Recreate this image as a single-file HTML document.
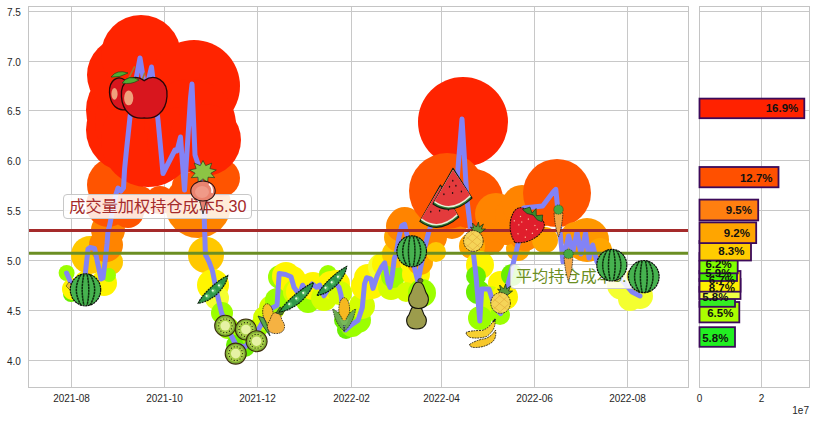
<!DOCTYPE html>
<html><head><meta charset="utf-8"><style>
html,body{margin:0;padding:0;background:#fff;}
body{width:816px;height:422px;overflow:hidden;position:relative;font-family:"Liberation Sans",sans-serif;}
svg{position:absolute;left:0;top:0;}
.g{stroke:#c8c8c8;stroke-width:1;}
.sp{fill:none;stroke:#c4c4c4;stroke-width:1;}
.t{font-size:10px;fill:#262626;}
.bl{font-size:11.5px;font-weight:bold;fill:#111;text-anchor:end;}
.ann{position:absolute;font-family:"Liberation Sans","Noto Sans CJK SC",sans-serif;font-size:16.2px;line-height:20px;
 background:rgba(255,255,255,0.85);border:1px solid #c8c8c8;border-radius:4px;padding:1.5px 4.2px 1.5px 5px;white-space:nowrap;}
</style></head><body>
<svg width="816" height="422" viewBox="0 0 816 422">
<line x1="28.5" y1="11.5" x2="688.5" y2="11.5" class="g"/>
<line x1="699.5" y1="11.5" x2="809.5" y2="11.5" class="g"/>
<line x1="28.5" y1="61.5" x2="688.5" y2="61.5" class="g"/>
<line x1="699.5" y1="61.5" x2="809.5" y2="61.5" class="g"/>
<line x1="28.5" y1="110.5" x2="688.5" y2="110.5" class="g"/>
<line x1="699.5" y1="110.5" x2="809.5" y2="110.5" class="g"/>
<line x1="28.5" y1="160.5" x2="688.5" y2="160.5" class="g"/>
<line x1="699.5" y1="160.5" x2="809.5" y2="160.5" class="g"/>
<line x1="28.5" y1="210.5" x2="688.5" y2="210.5" class="g"/>
<line x1="699.5" y1="210.5" x2="809.5" y2="210.5" class="g"/>
<line x1="28.5" y1="260.5" x2="688.5" y2="260.5" class="g"/>
<line x1="699.5" y1="260.5" x2="809.5" y2="260.5" class="g"/>
<line x1="28.5" y1="310.5" x2="688.5" y2="310.5" class="g"/>
<line x1="699.5" y1="310.5" x2="809.5" y2="310.5" class="g"/>
<line x1="28.5" y1="360.5" x2="688.5" y2="360.5" class="g"/>
<line x1="699.5" y1="360.5" x2="809.5" y2="360.5" class="g"/>
<line x1="71.5" y1="6.5" x2="71.5" y2="387.5" class="g"/>
<line x1="164.5" y1="6.5" x2="164.5" y2="387.5" class="g"/>
<line x1="257.5" y1="6.5" x2="257.5" y2="387.5" class="g"/>
<line x1="351.5" y1="6.5" x2="351.5" y2="387.5" class="g"/>
<line x1="441.5" y1="6.5" x2="441.5" y2="387.5" class="g"/>
<line x1="534.5" y1="6.5" x2="534.5" y2="387.5" class="g"/>
<line x1="627.5" y1="6.5" x2="627.5" y2="387.5" class="g"/>
<line x1="761.5" y1="6.5" x2="761.5" y2="387.5" class="g"/>
<circle cx="66.6" cy="273" r="8" fill="#9cff00"/>
<circle cx="71" cy="294" r="8" fill="#6aee00"/>
<circle cx="73" cy="289" r="11" fill="#fff500"/>
<circle cx="80" cy="292" r="10" fill="#fff500"/>
<circle cx="84.6" cy="281" r="10" fill="#fff500"/>
<circle cx="90" cy="255" r="19" fill="#ffc800"/>
<circle cx="95" cy="250" r="14" fill="#ffc800"/>
<circle cx="104" cy="283" r="13" fill="#fff500"/>
<circle cx="110" cy="262" r="13" fill="#ffc800"/>
<circle cx="109" cy="275" r="7" fill="#9cff00"/>
<circle cx="106" cy="245" r="17" fill="#ff8400"/>
<circle cx="108" cy="230" r="17" fill="#ff8400"/>
<circle cx="198" cy="205" r="33" fill="#ff8400"/>
<circle cx="108" cy="205" r="22" fill="#ff5400"/>
<circle cx="115" cy="185" r="28" fill="#ff5400"/>
<circle cx="128" cy="212" r="16" fill="#ff5400"/>
<circle cx="140" cy="200" r="14" fill="#ff5400"/>
<circle cx="160" cy="200" r="14" fill="#ff5400"/>
<circle cx="180" cy="198" r="14" fill="#ff5400"/>
<circle cx="186" cy="186" r="14" fill="#ff5400"/>
<circle cx="221" cy="178" r="19" fill="#ff5400"/>
<circle cx="130" cy="110" r="44" fill="#ff2400"/>
<circle cx="128" cy="130" r="42" fill="#ff2400"/>
<circle cx="125" cy="75" r="38" fill="#ff2400"/>
<circle cx="141" cy="55" r="40" fill="#ff2400"/>
<circle cx="140" cy="122" r="45" fill="#ff2400"/>
<circle cx="148" cy="140" r="47" fill="#ff2400"/>
<circle cx="194" cy="86" r="46" fill="#ff2400"/>
<circle cx="190" cy="125" r="46" fill="#ff2400"/>
<circle cx="180" cy="140" r="33" fill="#ff2400"/>
<circle cx="205" cy="140" r="36" fill="#ff2400"/>
<circle cx="206" cy="255" r="18" fill="#ffc800"/>
<circle cx="213" cy="285" r="16" fill="#fff500"/>
<circle cx="217" cy="298" r="12" fill="#f4ff30"/>
<circle cx="222" cy="313" r="11" fill="#9cff00"/>
<circle cx="228" cy="328" r="11" fill="#9cff00"/>
<circle cx="236" cy="345" r="10" fill="#6aee00"/>
<circle cx="245" cy="347" r="10" fill="#6aee00"/>
<circle cx="252" cy="338" r="10" fill="#9cff00"/>
<circle cx="258" cy="328" r="10" fill="#9cff00"/>
<circle cx="265" cy="318" r="12" fill="#d4ff00"/>
<circle cx="272" cy="308" r="13" fill="#d4ff00"/>
<circle cx="277" cy="300" r="12" fill="#9cff00"/>
<circle cx="280" cy="277" r="12" fill="#9cff00"/>
<circle cx="286" cy="276" r="14" fill="#fff500"/>
<circle cx="292" cy="280" r="14" fill="#fff500"/>
<circle cx="296" cy="292" r="13" fill="#d4ff00"/>
<circle cx="300" cy="292" r="14" fill="#fff500"/>
<circle cx="305" cy="290" r="14" fill="#fff500"/>
<circle cx="308" cy="301" r="12" fill="#9cff00"/>
<circle cx="313" cy="286" r="14" fill="#fff500"/>
<circle cx="318" cy="288" r="13" fill="#fff500"/>
<circle cx="324" cy="298" r="13" fill="#d4ff00"/>
<circle cx="328" cy="274" r="9" fill="#9cff00"/>
<circle cx="331" cy="285" r="14" fill="#fff500"/>
<circle cx="336" cy="284" r="14" fill="#fff500"/>
<circle cx="340" cy="293" r="12" fill="#d4ff00"/>
<circle cx="344" cy="320" r="10" fill="#6aee00"/>
<circle cx="346" cy="330" r="9" fill="#6aee00"/>
<circle cx="352" cy="325" r="12" fill="#9cff00"/>
<circle cx="358" cy="320" r="13" fill="#9cff00"/>
<circle cx="362" cy="306" r="13" fill="#d4ff00"/>
<circle cx="365" cy="286" r="14" fill="#fff500"/>
<circle cx="368" cy="278" r="14" fill="#fff500"/>
<circle cx="372" cy="286" r="13" fill="#fff500"/>
<circle cx="377" cy="276" r="14" fill="#fff500"/>
<circle cx="382" cy="267" r="14" fill="#f4ff30"/>
<circle cx="385" cy="264" r="13" fill="#fff500"/>
<circle cx="388" cy="282" r="14" fill="#fff500"/>
<circle cx="391" cy="287" r="13" fill="#d4ff00"/>
<circle cx="393" cy="276" r="12" fill="#9cff00"/>
<circle cx="396" cy="254" r="14" fill="#ffc800"/>
<circle cx="399" cy="237" r="15" fill="#ffa600"/>
<circle cx="402" cy="226" r="16" fill="#ff8400"/>
<circle cx="404.6" cy="224" r="17" fill="#ff8400"/>
<circle cx="413" cy="262" r="13" fill="#fff500"/>
<circle cx="416" cy="274" r="14" fill="#fff500"/>
<circle cx="406" cy="292" r="10" fill="#d4ff00"/>
<circle cx="422" cy="293" r="14" fill="#9cff00"/>
<circle cx="420" cy="262" r="13" fill="#ffa600"/>
<circle cx="424.5" cy="243" r="15" fill="#ff8400"/>
<circle cx="429" cy="229" r="16" fill="#ff8400"/>
<circle cx="431" cy="237" r="16" fill="#ff8400"/>
<circle cx="463" cy="122" r="45" fill="#ff2400"/>
<circle cx="452" cy="224" r="15" fill="#ff8400"/>
<circle cx="447" cy="191" r="38" fill="#ff5400"/>
<circle cx="473" cy="199" r="30" fill="#ff5400"/>
<circle cx="496" cy="214" r="21" fill="#ff8400"/>
<circle cx="490" cy="240" r="15" fill="#ff8400"/>
<circle cx="472" cy="246" r="13" fill="#ffa600"/>
<circle cx="436" cy="252" r="10" fill="#ffc800"/>
<circle cx="480" cy="265" r="14" fill="#fff500"/>
<circle cx="500" cy="283" r="12" fill="#fff500"/>
<circle cx="476" cy="276" r="10" fill="#6aee00"/>
<circle cx="478" cy="292" r="12" fill="#6aee00"/>
<circle cx="490" cy="300" r="14" fill="#d4ff00"/>
<circle cx="480" cy="318" r="12" fill="#9cff00"/>
<circle cx="505" cy="297" r="13" fill="#fff500"/>
<circle cx="500" cy="315" r="10" fill="#9cff00"/>
<circle cx="512" cy="275" r="11" fill="#6aee00"/>
<circle cx="518" cy="249" r="12" fill="#ffa600"/>
<circle cx="512" cy="215" r="17" fill="#ff8400"/>
<circle cx="506" cy="232" r="13" fill="#ff8400"/>
<circle cx="522" cy="205" r="20" fill="#ff8400"/>
<circle cx="525" cy="235" r="16" fill="#ff8400"/>
<circle cx="540" cy="205" r="22" fill="#ff8400"/>
<circle cx="557" cy="193" r="34" fill="#ff5400"/>
<circle cx="545" cy="240" r="13" fill="#ffa600"/>
<circle cx="575" cy="236" r="14" fill="#ff9800"/>
<circle cx="587" cy="240" r="22" fill="#ff9800"/>
<circle cx="600" cy="250" r="12" fill="#ffa600"/>
<circle cx="622" cy="285" r="15" fill="#f4ff30"/>
<circle cx="640" cy="296" r="13" fill="#f4ff30"/>
<circle cx="630" cy="299" r="12" fill="#f4ff30"/>
<polyline points="66.6,273 71,283 78,294 84.6,280 88,249 90,247.5 94.6,248.5 101,279 103,278 105.4,259 107,244 108,231 109.5,226 116,194 118,188 121,191 123.5,188 124.6,169 126.5,150 130,117 134,90 140,58 145.5,92 151.5,67 158,120 163,173.5 175,150 177,151 180.5,137 184.5,190 186.2,164 190.5,98 192,84 195,155 199,167 204.2,216.6 205.4,254.5 209,261.6 212.5,271 214.9,283 217.3,294.8 221.6,313 228.2,329.7 236,345 245,347 252,338 258,330 265,318 272,308 277,305.4 279.2,273.5 285.6,274.5 291,276.7 294,287.3 299.4,294.8 302.6,285.2 307,291.6 312.2,284 316.5,287.3 319.7,285.2 324,295.8 330.4,285.2 334.6,282 339,287.3 341,294.8 345.3,330 351.7,324.6 358,320.4 362.3,307.6 364.5,284 366.6,277.7 370.9,278.8 373,288.4 377.3,275.6 381.5,267 384.7,262.8 388,282 390,287.3 392.2,275.6 394.3,258.5 396.1,254.1 399,237 401.8,225.7 404.6,224.3 413.2,262.6 418,282 424,250 429,231 436,212 445,205 455,205 462,119 467,200 471,233 476,275.8 479.8,321 481.7,289 489,289 495,308 500.6,313.6 515.8,253 521.4,230 523.6,208 542.6,206 554,191 555.8,189.3 563,262 568.5,236 572.8,252 577,232 581,254 585.6,233 589,258 592.7,245 597,262 602,258 610,265 620,278 631.7,291.7 640,296" fill="none" stroke="#8383f5" stroke-width="5" stroke-linejoin="round" stroke-linecap="round"/>
<line x1="28.5" y1="230.4" x2="688.5" y2="230.4" stroke="#a52a2a" stroke-width="3"/>
<line x1="28.5" y1="253.3" x2="688.5" y2="253.3" stroke="#6b8e23" stroke-width="3"/>
<rect x="28.5" y="6.5" width="660.0" height="381.0" class="sp"/>
<rect x="699.5" y="6.5" width="110.0" height="381.0" class="sp"/>
<g><rect x="699.5" y="98.6" width="104.8" height="19.6" fill="#ff2200" stroke="#3c0a5a" stroke-width="1.8"/>
<rect x="699.5" y="167" width="79.0" height="20.3" fill="#ff5000" stroke="#3c0a5a" stroke-width="1.8"/>
<rect x="699.5" y="199.6" width="58.7" height="20.8" fill="#ff7f10" stroke="#3c0a5a" stroke-width="1.8"/>
<rect x="699.5" y="302" width="39.8" height="20.4" fill="#aaff00" stroke="#3c0a5a" stroke-width="1.8"/>
<rect x="699.5" y="287" width="35.5" height="19.8" fill="#33ee22" stroke="#3c0a5a" stroke-width="1.8"/>
<rect x="699.5" y="279" width="41.0" height="20.0" fill="#f0ff44" stroke="#3c0a5a" stroke-width="1.8"/>
<rect x="699.5" y="271" width="41.0" height="20.7" fill="#ffee00" stroke="#3c0a5a" stroke-width="1.8"/>
<rect x="699.5" y="261" width="37.5" height="20.0" fill="#44ee00" stroke="#3c0a5a" stroke-width="1.8"/>
<rect x="699.5" y="253" width="38.2" height="20.3" fill="#80ff00" stroke="#3c0a5a" stroke-width="1.8"/>
<rect x="699.5" y="241" width="51.5" height="19.5" fill="#ffcc00" stroke="#3c0a5a" stroke-width="1.8"/>
<rect x="699.5" y="222.4" width="56.7" height="20.7" fill="#ffa500" stroke="#3c0a5a" stroke-width="1.8"/>
<rect x="699.5" y="327.2" width="35.5" height="19.6" fill="#22ee22" stroke="#3c0a5a" stroke-width="1.8"/>
<text x="798.3" y="112.3" class="bl">16.9%</text>
<text x="772.5" y="181.5" class="bl">12.7%</text>
<text x="752" y="214.3" class="bl">9.5%</text>
<text x="750" y="237.0" class="bl">9.2%</text>
<text x="744.5" y="255.0" class="bl">8.3%</text>
<text x="731.7" y="267.7" class="bl">6.2%</text>
<text x="731.5" y="276.9" class="bl">5.9%</text>
<text x="735" y="284.3" class="bl">6.7%</text>
<text x="735" y="291.5" class="bl">8.7%</text>
<text x="728.5" y="300.9" class="bl">5.8%</text>
<text x="733.4" y="316.7" class="bl">6.5%</text>
<text x="728.4" y="341.7" class="bl">5.8%</text></g>
<text x="20.8" y="16.3" class="t" text-anchor="end">7.5</text>
<text x="20.8" y="66.3" class="t" text-anchor="end">7.0</text>
<text x="20.8" y="115.3" class="t" text-anchor="end">6.5</text>
<text x="20.8" y="165.3" class="t" text-anchor="end">6.0</text>
<text x="20.8" y="215.3" class="t" text-anchor="end">5.5</text>
<text x="20.8" y="265.3" class="t" text-anchor="end">5.0</text>
<text x="20.8" y="315.3" class="t" text-anchor="end">4.5</text>
<text x="20.8" y="365.3" class="t" text-anchor="end">4.0</text>
<text x="71.5" y="402.4" class="t" text-anchor="middle">2021-08</text>
<text x="164.5" y="402.4" class="t" text-anchor="middle">2021-10</text>
<text x="257.5" y="402.4" class="t" text-anchor="middle">2021-12</text>
<text x="351.5" y="402.4" class="t" text-anchor="middle">2022-02</text>
<text x="441.5" y="402.4" class="t" text-anchor="middle">2022-04</text>
<text x="534.5" y="402.4" class="t" text-anchor="middle">2022-06</text>
<text x="627.5" y="402.4" class="t" text-anchor="middle">2022-08</text>
<text x="699.5" y="402" class="t" text-anchor="middle">0</text>
<text x="761.6" y="402" class="t" text-anchor="middle">2</text>
<text x="809" y="414" class="t" text-anchor="end">1e7</text>
</svg>
<div class="ann" style="left:63.3px;top:193.8px;color:#a52a2a;">成交量加权持仓成本5.30</div>
<div class="ann" style="left:509.8px;top:263.6px;color:#6b8e23;">平均持仓成本5.07</div>
<svg width="816" height="422" viewBox="0 0 816 422">
<path d="M66,286 l3,-4 l3,3 l3,-3 l-1,5 l-4,3Z" fill="#f0c030" stroke="#222" stroke-width="0.5"/>
<g><ellipse cx="85.5" cy="289.8" rx="15.2" ry="16.0" fill="#46b24f" stroke="#0c0c0c" stroke-width="1.2" stroke-dasharray="2.2 0.6"/><path d="M81.0,274.5 Q71.7,289.8 81.0,305.1" fill="none" stroke="#0c2a0c" stroke-width="1.5" stroke-dasharray="2.5 0.5"/><path d="M83.9,274.5 Q80.5,289.8 83.9,305.1" fill="none" stroke="#0c2a0c" stroke-width="1.5" stroke-dasharray="2.5 0.5"/><path d="M87.1,274.5 Q90.5,289.8 87.1,305.1" fill="none" stroke="#0c2a0c" stroke-width="1.5" stroke-dasharray="2.5 0.5"/><path d="M90.0,274.5 Q99.3,289.8 90.0,305.1" fill="none" stroke="#0c2a0c" stroke-width="1.5" stroke-dasharray="2.5 0.5"/></g>
<path d="M128.8,78.2 L134.7,66.4" stroke="#a07830" stroke-width="1.6"/>
<g><path d="M125,80.3 C118.0,74.6 108.7,80.0 109.5,92.8 C110.3,105.8 118.0,110.9 125,109.6 C132.0,110.9 139.7,105.8 140.5,92.8 C141.3,80.0 132.0,74.6 125,80.3Z" fill="#d8161e" stroke="#2a0606" stroke-width="1.3"/><ellipse cx="114.5" cy="93.9" rx="3.1" ry="5.8" fill="#f0a07c"/></g>
<path d="M111,77 q6,-8 17,-4 q-8,5 -17,4Z" fill="#52ac34" stroke="#1a3a10" stroke-width="0.6"/>
<path d="M140.6,84 L145,72.5" stroke="#a07830" stroke-width="1.6"/>
<g><path d="M144.2,80.6 C133.9,73.2 120.3,80.1 121.4,96.4 C122.5,113.1 133.9,119.6 144.2,117.9 C154.5,119.6 165.9,113.1 167.0,96.4 C168.1,80.1 154.5,73.2 144.2,80.6Z" fill="#d8161e" stroke="#2a0606" stroke-width="1.3"/><ellipse cx="128.7" cy="97.9" rx="4.6" ry="7.4" fill="#f0a07c"/></g>
<path d="M122,83 q7,-9 17,-3 q-8,5 -17,3Z" fill="#52ac34" stroke="#1a3a10" stroke-width="0.6"/>
<g><path d="M203.0,160.5 L205.7,165.6 L211.7,163.2 L209.9,168.6 L216.3,170.0 L210.9,173.2 L214.7,177.7 L208.1,177.2 L207.6,182.8 L203.0,178.8 L198.4,182.8 L197.9,177.2 L191.3,177.7 L195.1,173.2 L189.7,170.0 L196.1,168.6 L194.3,163.2 L200.3,165.6Z" fill="#8cc444" stroke="#2a3a1a" stroke-width="0.7"/><path d="M199,198 L203,214 L207,198Z" fill="#e88070" stroke="#222" stroke-width="0.8"/><ellipse cx="203" cy="191" rx="12.2" ry="10" fill="#ea8470" stroke="#2a1010" stroke-width="1.1"/><ellipse cx="202" cy="192" rx="7" ry="6" fill="#f09a88"/><path d="M209,184 q4,3 3,9" stroke="#fff" stroke-width="1.6" fill="none"/></g>
<g transform="translate(213.6,290.2) rotate(-40.3)"><path d="M-20.2,0 C-11.1,-4.5 9.1,-5.0 20.2,-2.0 C12.1,5.5 -7.1,8.5 -20.2,0Z" fill="#30984a" stroke="#0a200c" stroke-width="1.2" stroke-dasharray="2 0.7"/><circle cx="-8.5" cy="0.5" r="2.3" fill="#52b862"/><circle cx="-9.0" cy="-0.2" r="1.1" fill="#e8f8e0"/><circle cx="-0.4" cy="0.5" r="2.3" fill="#52b862"/><circle cx="-0.9" cy="-0.2" r="1.1" fill="#e8f8e0"/><circle cx="7.7" cy="0.5" r="2.3" fill="#52b862"/><circle cx="7.2" cy="-0.2" r="1.1" fill="#e8f8e0"/></g>
<g><circle cx="225.2" cy="325.8" r="10.5" fill="#7fae34" stroke="#3c2e0c" stroke-width="1.1"/><circle cx="225.2" cy="325.8" r="8.4" fill="#a9cf48"/><circle cx="225.2" cy="325.8" r="4.8" fill="#e6f2a4"/><circle cx="232.1" cy="325.8" r="0.6" fill="#1a1a0a"/><circle cx="231.4" cy="328.8" r="0.6" fill="#1a1a0a"/><circle cx="229.5" cy="331.2" r="0.6" fill="#1a1a0a"/><circle cx="226.7" cy="332.6" r="0.6" fill="#1a1a0a"/><circle cx="223.7" cy="332.6" r="0.6" fill="#1a1a0a"/><circle cx="220.9" cy="331.2" r="0.6" fill="#1a1a0a"/><circle cx="219.0" cy="328.8" r="0.6" fill="#1a1a0a"/><circle cx="218.3" cy="325.8" r="0.6" fill="#1a1a0a"/><circle cx="219.0" cy="322.8" r="0.6" fill="#1a1a0a"/><circle cx="220.9" cy="320.4" r="0.6" fill="#1a1a0a"/><circle cx="223.7" cy="319.0" r="0.6" fill="#1a1a0a"/><circle cx="226.7" cy="319.0" r="0.6" fill="#1a1a0a"/><circle cx="229.5" cy="320.4" r="0.6" fill="#1a1a0a"/><circle cx="231.4" cy="322.8" r="0.6" fill="#1a1a0a"/></g>
<g><circle cx="245.9" cy="329.5" r="10.5" fill="#7fae34" stroke="#3c2e0c" stroke-width="1.1"/><circle cx="245.9" cy="329.5" r="8.4" fill="#a9cf48"/><circle cx="245.9" cy="329.5" r="4.8" fill="#e6f2a4"/><circle cx="252.8" cy="329.5" r="0.6" fill="#1a1a0a"/><circle cx="252.1" cy="332.5" r="0.6" fill="#1a1a0a"/><circle cx="250.2" cy="334.9" r="0.6" fill="#1a1a0a"/><circle cx="247.4" cy="336.3" r="0.6" fill="#1a1a0a"/><circle cx="244.4" cy="336.3" r="0.6" fill="#1a1a0a"/><circle cx="241.6" cy="334.9" r="0.6" fill="#1a1a0a"/><circle cx="239.7" cy="332.5" r="0.6" fill="#1a1a0a"/><circle cx="239.0" cy="329.5" r="0.6" fill="#1a1a0a"/><circle cx="239.7" cy="326.5" r="0.6" fill="#1a1a0a"/><circle cx="241.6" cy="324.1" r="0.6" fill="#1a1a0a"/><circle cx="244.4" cy="322.7" r="0.6" fill="#1a1a0a"/><circle cx="247.4" cy="322.7" r="0.6" fill="#1a1a0a"/><circle cx="250.2" cy="324.1" r="0.6" fill="#1a1a0a"/><circle cx="252.1" cy="326.5" r="0.6" fill="#1a1a0a"/></g>
<g><circle cx="256.6" cy="341.2" r="10.5" fill="#7fae34" stroke="#3c2e0c" stroke-width="1.1"/><circle cx="256.6" cy="341.2" r="8.4" fill="#a9cf48"/><circle cx="256.6" cy="341.2" r="4.8" fill="#e6f2a4"/><circle cx="263.5" cy="341.2" r="0.6" fill="#1a1a0a"/><circle cx="262.8" cy="344.2" r="0.6" fill="#1a1a0a"/><circle cx="260.9" cy="346.6" r="0.6" fill="#1a1a0a"/><circle cx="258.1" cy="348.0" r="0.6" fill="#1a1a0a"/><circle cx="255.1" cy="348.0" r="0.6" fill="#1a1a0a"/><circle cx="252.3" cy="346.6" r="0.6" fill="#1a1a0a"/><circle cx="250.4" cy="344.2" r="0.6" fill="#1a1a0a"/><circle cx="249.7" cy="341.2" r="0.6" fill="#1a1a0a"/><circle cx="250.4" cy="338.2" r="0.6" fill="#1a1a0a"/><circle cx="252.3" cy="335.8" r="0.6" fill="#1a1a0a"/><circle cx="255.1" cy="334.4" r="0.6" fill="#1a1a0a"/><circle cx="258.1" cy="334.4" r="0.6" fill="#1a1a0a"/><circle cx="260.9" cy="335.8" r="0.6" fill="#1a1a0a"/><circle cx="262.8" cy="338.2" r="0.6" fill="#1a1a0a"/></g>
<g><circle cx="235.7" cy="353.6" r="10.5" fill="#7fae34" stroke="#3c2e0c" stroke-width="1.1"/><circle cx="235.7" cy="353.6" r="8.4" fill="#a9cf48"/><circle cx="235.7" cy="353.6" r="4.8" fill="#e6f2a4"/><circle cx="242.6" cy="353.6" r="0.6" fill="#1a1a0a"/><circle cx="241.9" cy="356.6" r="0.6" fill="#1a1a0a"/><circle cx="240.0" cy="359.0" r="0.6" fill="#1a1a0a"/><circle cx="237.2" cy="360.4" r="0.6" fill="#1a1a0a"/><circle cx="234.2" cy="360.4" r="0.6" fill="#1a1a0a"/><circle cx="231.4" cy="359.0" r="0.6" fill="#1a1a0a"/><circle cx="229.5" cy="356.6" r="0.6" fill="#1a1a0a"/><circle cx="228.8" cy="353.6" r="0.6" fill="#1a1a0a"/><circle cx="229.5" cy="350.6" r="0.6" fill="#1a1a0a"/><circle cx="231.4" cy="348.2" r="0.6" fill="#1a1a0a"/><circle cx="234.2" cy="346.8" r="0.6" fill="#1a1a0a"/><circle cx="237.2" cy="346.8" r="0.6" fill="#1a1a0a"/><circle cx="240.0" cy="348.2" r="0.6" fill="#1a1a0a"/><circle cx="241.9" cy="350.6" r="0.6" fill="#1a1a0a"/></g>
<g><g transform="translate(268,313.5) rotate(-8)"><ellipse cx="0" cy="0" rx="5.2" ry="9.8" fill="#f7c22a" stroke="#2a2010" stroke-width="0.8" stroke-dasharray="1.6 0.8"/></g><path d="M258,316 Q262,326 270,336 Q268,326 264,318Z" fill="#5aa848" stroke="#123" stroke-width="0.7"/><path d="M276,312.6 C271.7,312.6 271.2,317.2 269.5,321.0 C265.6,325.6 266.9,333.6 276,333.6 C285.1,333.6 286.4,325.6 282.5,321.0 C280.8,317.2 280.3,312.6 276,312.6Z" fill="#f5b242" stroke="#2a2010" stroke-width="0.8" stroke-dasharray="1.6 0.9"/><path d="M276,313 l4,-6 l5,3 l-3,5Z" fill="#4a7a28" stroke="#122" stroke-width="0.6"/></g>
<g transform="translate(297.1,298.0) rotate(-38.5)"><path d="M-22.5,0 C-12.4,-4.5 10.1,-5.0 22.5,-2.0 C13.5,5.5 -7.9,8.5 -22.5,0Z" fill="#30984a" stroke="#0a200c" stroke-width="1.2" stroke-dasharray="2 0.7"/><circle cx="-9.4" cy="0.5" r="2.3" fill="#52b862"/><circle cx="-9.9" cy="-0.2" r="1.1" fill="#e8f8e0"/><circle cx="-0.4" cy="0.5" r="2.3" fill="#52b862"/><circle cx="-0.9" cy="-0.2" r="1.1" fill="#e8f8e0"/><circle cx="8.5" cy="0.5" r="2.3" fill="#52b862"/><circle cx="8.0" cy="-0.2" r="1.1" fill="#e8f8e0"/></g>
<g transform="translate(332.5,281.8) rotate(-41.6)"><path d="M-20.7,0 C-11.4,-4.5 9.3,-5.0 20.7,-2.0 C12.4,5.5 -7.3,8.5 -20.7,0Z" fill="#30984a" stroke="#0a200c" stroke-width="1.2" stroke-dasharray="2 0.7"/><circle cx="-8.7" cy="0.5" r="2.3" fill="#52b862"/><circle cx="-9.2" cy="-0.2" r="1.1" fill="#e8f8e0"/><circle cx="-0.4" cy="0.5" r="2.3" fill="#52b862"/><circle cx="-0.9" cy="-0.2" r="1.1" fill="#e8f8e0"/><circle cx="7.9" cy="0.5" r="2.3" fill="#52b862"/><circle cx="7.4" cy="-0.2" r="1.1" fill="#e8f8e0"/></g>
<g><ellipse cx="344.2" cy="309.4" rx="5.4" ry="11.7" fill="#f6b820" stroke="#2a2010" stroke-width="0.8" stroke-dasharray="1.6 0.8"/><path d="M344.2,331.4 Q335.2,323.4 332.7,308.9 Q340.2,312.4 343.2,321.4Z" fill="#6aaa50" stroke="#1a2a10" stroke-width="0.8" stroke-dasharray="1.6 0.8"/><path d="M344.2,331.4 Q353.2,323.4 355.7,308.9 Q348.2,312.4 345.2,321.4Z" fill="#6aaa50" stroke="#1a2a10" stroke-width="0.8" stroke-dasharray="1.6 0.8"/><path d="M339.2,317.4 Q344.2,333.4 349.2,317.4 Q344.2,323.4 339.2,317.4Z" fill="#78b85a"/></g>
<g><ellipse cx="411.7" cy="251.3" rx="14.8" ry="15.5" fill="#46b24f" stroke="#0c0c0c" stroke-width="1.2" stroke-dasharray="2.2 0.6"/><path d="M407.3,236.4 Q398.2,251.3 407.3,266.2" fill="none" stroke="#0c2a0c" stroke-width="1.5" stroke-dasharray="2.5 0.5"/><path d="M410.1,236.4 Q406.8,251.3 410.1,266.2" fill="none" stroke="#0c2a0c" stroke-width="1.5" stroke-dasharray="2.5 0.5"/><path d="M413.3,236.4 Q416.6,251.3 413.3,266.2" fill="none" stroke="#0c2a0c" stroke-width="1.5" stroke-dasharray="2.5 0.5"/><path d="M416.1,236.4 Q425.2,251.3 416.1,266.2" fill="none" stroke="#0c2a0c" stroke-width="1.5" stroke-dasharray="2.5 0.5"/></g>
<g><path d="M416.5,305 C411.6,305 411.0,310.3 409.0,314.6 C404.6,319.9 406.1,329 416.5,329 C426.9,329 428.4,319.9 424.0,314.6 C422.0,310.3 421.4,305 416.5,305Z" fill="#9c9c4c" stroke="#14140a" stroke-width="1.1"/><path d="M418.5,282 C413.6,282 413.0,287.8 411.0,292.6 C406.6,298.4 408.1,308.5 418.5,308.5 C428.9,308.5 430.4,298.4 426.0,292.6 C424.0,287.8 423.4,282 418.5,282Z" fill="#9c9c4c" stroke="#14140a" stroke-width="1.1"/><ellipse cx="420.4" cy="280.6" rx="2.6" ry="2.2" fill="#6a6a30" stroke="#222" stroke-width="0.6"/></g>
<g><path d="M440.5,185 L419.8,221.4 Q438.5,235.1 458.8,217.2Z" fill="#2f7a30" stroke="#101a10" stroke-width="1.1" stroke-linejoin="round"/><path d="M440.5,186.5 L420.8,219.7 Q438.6,233.1 457.8,215.5Z" fill="#e8f0d8"/><path d="M440.5,186.5 L421.6,218.3 Q438.6,231.5 457.0,214.1Z" fill="#e43a3c"/><ellipse cx="436.6" cy="204.2" rx="0.7" ry="1" fill="#201010"/><ellipse cx="443.1" cy="203.5" rx="0.7" ry="1" fill="#201010"/><ellipse cx="430.8" cy="211.7" rx="0.7" ry="1" fill="#201010"/><ellipse cx="439.6" cy="210.7" rx="0.7" ry="1" fill="#201010"/><ellipse cx="448.4" cy="209.8" rx="0.7" ry="1" fill="#201010"/><ellipse cx="440.0" cy="198.0" rx="0.7" ry="1" fill="#201010"/></g>
<g><path d="M453,168.3 L433,204 Q451.5,216.9 472,198.1Z" fill="#2f7a30" stroke="#101a10" stroke-width="1.1" stroke-linejoin="round"/><path d="M453,169.8 L434.0,202.3 Q451.6,215.0 470.9,196.4Z" fill="#e8f0d8"/><path d="M453,169.8 L434.8,200.9 Q451.6,213.4 470.1,195.1Z" fill="#e43a3c"/><ellipse cx="449.5" cy="186.8" rx="0.7" ry="1" fill="#201010"/><ellipse cx="455.9" cy="185.8" rx="0.7" ry="1" fill="#201010"/><ellipse cx="443.9" cy="194.2" rx="0.7" ry="1" fill="#201010"/><ellipse cx="452.6" cy="192.9" rx="0.7" ry="1" fill="#201010"/><ellipse cx="461.4" cy="191.5" rx="0.7" ry="1" fill="#201010"/><ellipse cx="452.8" cy="180.7" rx="0.7" ry="1" fill="#201010"/></g>
<g><path d="M474.4,232 l-4,-5 l3,1 l-1,-5 l4,4 l2,-5 l1,5 l4,-3 l-2,5 l4,0 l-5,4Z" fill="#5a9a38" stroke="#1a2a10" stroke-width="0.7"/><ellipse cx="473.4" cy="241" rx="9.8" ry="10.4" fill="#f5d458" stroke="#2a2010" stroke-width="0.9" stroke-dasharray="1.8 1"/><path d="M466.4,237 l13,10 M465.4,244 l9,7 M470.4,232 l11,9 M466.4,247 l13,-12 M465.4,240 l9,-8 M471.4,251 l10,-9" stroke="#e0a838" stroke-width="0.6"/></g>
<g><path d="M466,332.5 Q470,330.5 482,330.5 Q489,328 492.5,322 L495,320.5 Q496,330 486.5,336.5 Q478,339 470.5,337.5 Q466.5,336 466,332.5Z" fill="#f7d032" stroke="#1a1408" stroke-width="0.9" stroke-dasharray="1.8 0.9"/><path d="M469.5,344.5 Q476,340 486,338.5 Q493,335 495.5,330 Q497,339 491,343 Q484,347.5 475,347.5 Q470,347.5 469.5,344.5Z" fill="#f7c82c" stroke="#1a1408" stroke-width="0.9" stroke-dasharray="1.8 0.9"/><path d="M493,322 l2.5,-3" stroke="#222" stroke-width="1.6"/></g>
<g><path d="M501.6,294 l-4,-5 l3,1 l-1,-5 l4,4 l2,-5 l1,5 l4,-3 l-2,5 l4,0 l-5,4Z" fill="#5a9a38" stroke="#1a2a10" stroke-width="0.7"/><ellipse cx="500.6" cy="303" rx="9.8" ry="10.4" fill="#f5d458" stroke="#2a2010" stroke-width="0.9" stroke-dasharray="1.8 1"/><path d="M493.6,299 l13,10 M492.6,306 l9,7 M497.6,294 l11,9 M493.6,309 l13,-12 M492.6,302 l9,-8 M498.6,313 l10,-9" stroke="#e0a838" stroke-width="0.6"/></g>
<g transform="translate(525.5,225.5) rotate(32)"><path d="M0,20 C-11,15 -18,3 -17,-7 C-16,-15 -6,-15 0,-13 C6,-15 16,-15 17,-7 C18,3 11,15 0,20Z" fill="#e01e2c" stroke="#1a0808" stroke-width="1" stroke-dasharray="2 0.8"/><path d="M-11,-12 l5,-6 l5,4 l1,-6 l4,6 l5,-4 l3,6 l-5,1 l-6,-2 l-6,2Z" fill="#3c8a28" stroke="#132" stroke-width="0.6"/><circle cx="-9" cy="-5" r="0.7" fill="#f8c0a0"/><circle cx="-1" cy="-7" r="0.7" fill="#f8c0a0"/><circle cx="8" cy="-5" r="0.7" fill="#f8c0a0"/><circle cx="-6" cy="3" r="0.7" fill="#f8c0a0"/><circle cx="3" cy="3" r="0.7" fill="#f8c0a0"/><circle cx="-2" cy="11" r="0.7" fill="#f8c0a0"/><circle cx="10" cy="3" r="0.7" fill="#f8c0a0"/><circle cx="-12" cy="2" r="0.7" fill="#f8c0a0"/><circle cx="6" cy="10" r="0.7" fill="#f8c0a0"/><circle cx="-5" cy="-1" r="0.7" fill="#f8c0a0"/><circle cx="12" cy="-3" r="0.7" fill="#f8c0a0"/></g>
<g><path d="M554.1,213.0 Q554.9,227.0 558.5,237.0 Q562.1,227.0 562.9,213.0Z" fill="#f3a646" stroke="#2a2010" stroke-width="0.8" stroke-dasharray="1.6 0.8"/><circle cx="558.5" cy="209.6" r="4.7" fill="#44a844" stroke="#1a3a10" stroke-width="0.6" stroke-dasharray="1.4 0.8"/></g>
<g><path d="M564.1,257.3 Q564.9,271.3 568.5,281.3 Q572.1,271.3 572.9,257.3Z" fill="#f3a646" stroke="#2a2010" stroke-width="0.8" stroke-dasharray="1.6 0.8"/><circle cx="568.5" cy="253.9" r="4.7" fill="#44a844" stroke="#1a3a10" stroke-width="0.6" stroke-dasharray="1.4 0.8"/></g>
<g><ellipse cx="611.8" cy="265.2" rx="15" ry="15.8" fill="#46b24f" stroke="#0c0c0c" stroke-width="1.2" stroke-dasharray="2.2 0.6"/><path d="M607.3,250.1 Q598.1,265.2 607.3,280.3" fill="none" stroke="#0c2a0c" stroke-width="1.5" stroke-dasharray="2.5 0.5"/><path d="M610.2,250.1 Q606.8,265.2 610.2,280.3" fill="none" stroke="#0c2a0c" stroke-width="1.5" stroke-dasharray="2.5 0.5"/><path d="M613.4,250.1 Q616.8,265.2 613.4,280.3" fill="none" stroke="#0c2a0c" stroke-width="1.5" stroke-dasharray="2.5 0.5"/><path d="M616.3,250.1 Q625.5,265.2 616.3,280.3" fill="none" stroke="#0c2a0c" stroke-width="1.5" stroke-dasharray="2.5 0.5"/></g>
<g><ellipse cx="643.8" cy="276.6" rx="15.3" ry="16.1" fill="#46b24f" stroke="#0c0c0c" stroke-width="1.2" stroke-dasharray="2.2 0.6"/><path d="M639.3,261.2 Q629.9,276.6 639.3,292.0" fill="none" stroke="#0c2a0c" stroke-width="1.5" stroke-dasharray="2.5 0.5"/><path d="M642.1,261.2 Q638.7,276.6 642.1,292.0" fill="none" stroke="#0c2a0c" stroke-width="1.5" stroke-dasharray="2.5 0.5"/><path d="M645.5,261.2 Q648.9,276.6 645.5,292.0" fill="none" stroke="#0c2a0c" stroke-width="1.5" stroke-dasharray="2.5 0.5"/><path d="M648.3,261.2 Q657.7,276.6 648.3,292.0" fill="none" stroke="#0c2a0c" stroke-width="1.5" stroke-dasharray="2.5 0.5"/></g>
</svg>
</body></html>
